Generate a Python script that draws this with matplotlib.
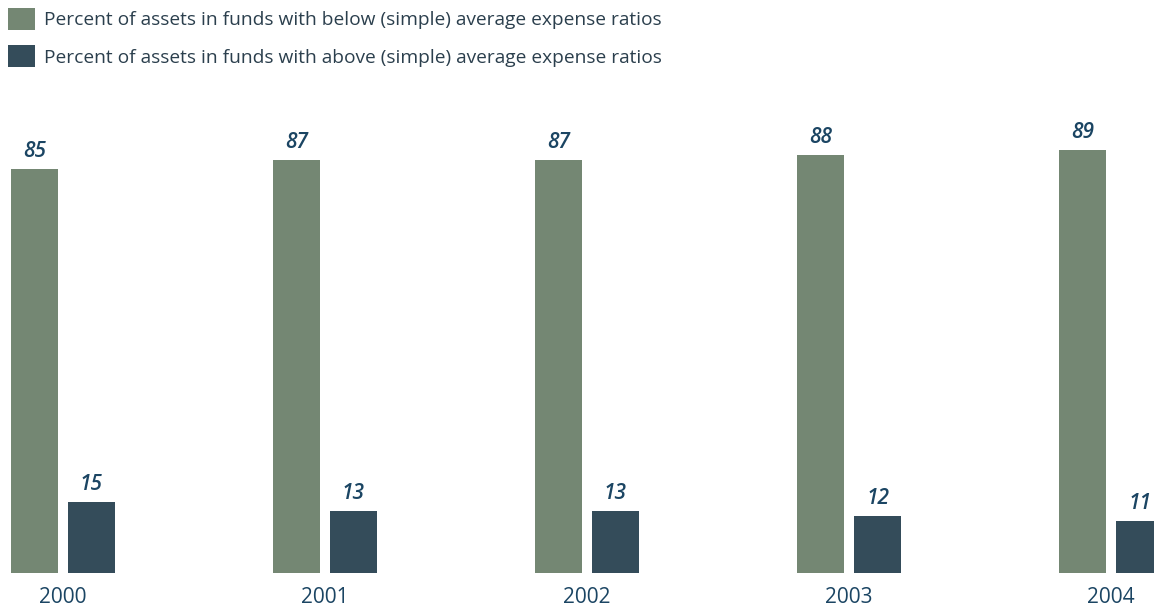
import matplotlib
matplotlib.use("Agg")
import matplotlib.pyplot as plt
import numpy as np

years = ["2000", "2001", "2002", "2003", "2004"]
below_avg = [85, 87, 87, 88, 89]
above_avg = [15, 13, 13, 12, 11]
labels = ["Percent of assets in funds with below (simple) average expense ratios",
          "Percent of assets in funds with above (simple) average expense ratios"]

GREEN = "#748773"
DARK = "#344c5a"
LABEL_BLUE = "#1b4563"
TEXT = "#2b3f4d"

plt.rcParams["font.family"] = ["Open Sans", "DejaVu Sans"]

fig = plt.figure(figsize=(11.54, 6.10), dpi=100)
ax = fig.add_axes([0, 37 / 610, 1, 473 / 610])

x = np.arange(len(years))
w = 0.179
off = 0.109
b1 = ax.bar(x - off, below_avg, w, color=GREEN, label=labels[0])
b2 = ax.bar(x + off, above_avg, w, color=DARK, label=labels[1])

for bars in (b1, b2):
    for r in bars:
        ax.annotate(f"{r.get_height():.0f}", (r.get_x() + r.get_width() / 2, r.get_height()),
                    xytext=(0, 5), textcoords="offset points", ha="center", va="bottom",
                    fontsize=15, style="italic", fontweight="semibold", color=LABEL_BLUE)

ax.set_xlim(-0.240, 4.164)
ax.set_ylim(0, 473 / 4.75)
ax.set_xticks(x)
ax.set_xticklabels(years, fontsize=15, color=LABEL_BLUE)
ax.tick_params(axis="x", length=0, pad=10)
ax.set_yticks([])
for s in ax.spines.values():
    s.set_visible(False)

fig.legend(handles=[b1, b2], loc="upper left", bbox_to_anchor=(0.0, 1.0),
           frameon=False, fontsize=13.8, labelcolor=TEXT,
           handlelength=1.42, handleheight=1.42, handletextpad=0.45,
           labelspacing=0.78, borderaxespad=0.2, borderpad=0.2)

fig.savefig("out.png", dpi=100)
